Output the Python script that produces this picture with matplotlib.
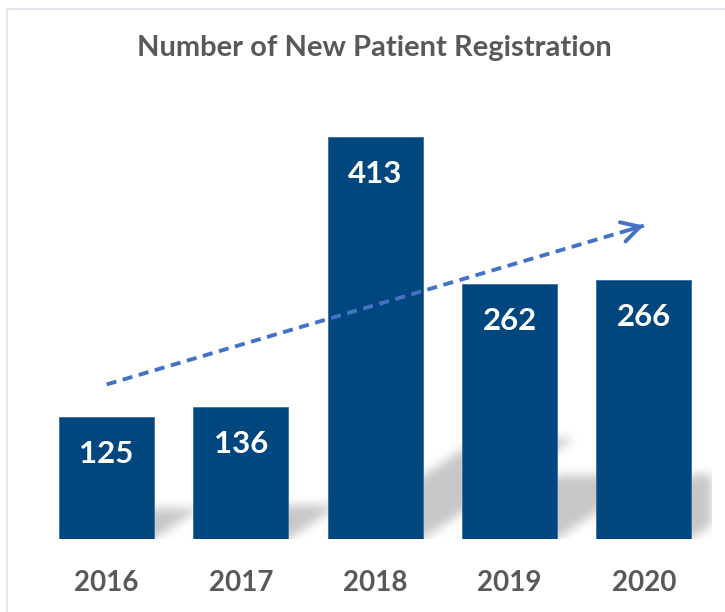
import numpy as np
import matplotlib
matplotlib.use("Agg")
import matplotlib.pyplot as plt
from matplotlib.patches import Rectangle

years = ["2016", "2017", "2018", "2019", "2020"]
values = [125, 136, 413, 262, 266]

W, H = 725, 612
fig = plt.figure(figsize=(W / 100, H / 100), dpi=100)
fig.patch.set_facecolor("white")

# outer frame
fig.patches.append(Rectangle((7 / W, -0.05), 1.0, (H - 9) / H + 0.05, transform=fig.transFigure,
                             fill=False, edgecolor="#DCE3EA", linewidth=1.2))

left, right = 39.5 / W, 711 / W
bottom = 73 / H
top_px = 101
ax = fig.add_axes([left, bottom, right - left, (H - top_px) / H - bottom])
x = np.arange(len(values))
xmin, xmax, ymin, ymax = -0.5, len(values) - 0.5, 0, 450
ax.set_xlim(xmin, xmax)
ax.set_ylim(ymin, ymax)
width = 0.708

# soft perspective shadows behind bars (rendered as blurred image)
nx, ny = 671, 438
gx = np.linspace(xmin, xmax, nx)
gy = np.linspace(ymin, ymax, ny)
GX, GY = np.meshgrid(gx, gy)
mask = np.zeros_like(GX)
for xi, v in zip(x, values):
    hh = 0.25 * v
    dx = 0.00272 * v
    t = np.clip(GY / hh, 0, None)
    xs = GX - dx * t
    inside = (GY >= 0) & (GY <= hh) & (xs >= xi - width / 2) & (xs <= xi + width / 2)
    mask = np.maximum(mask, inside.astype(float))

def blur(a, sigma):
    r = int(3 * sigma)
    k = np.exp(-0.5 * (np.arange(-r, r + 1) / sigma) ** 2)
    k /= k.sum()
    a = np.apply_along_axis(lambda m: np.convolve(m, k, mode="same"), 0, a)
    a = np.apply_along_axis(lambda m: np.convolve(m, k, mode="same"), 1, a)
    return a

pad = 30
big = np.zeros((ny + 2 * pad, nx + 2 * pad))
big[pad:-pad, pad:-pad] = mask
big = blur(big, 5)[pad:-pad, pad:-pad]
rgba = np.zeros((ny, nx, 4))
rgba[..., 3] = big * 0.22
ax.imshow(rgba, extent=(xmin, xmax, ymin, ymax), origin="lower", aspect="auto", zorder=1,
          interpolation="bilinear")

ax.bar(x, values, width=width, color="#00467F", edgecolor="#3D6E9E", linewidth=0.6, zorder=3)
for xi, v in zip(x, values):
    ax.annotate(str(v), (xi, v), xytext=(0, -37), textcoords="offset pixels",
                ha="center", va="center", color="white", fontsize=22.5, fontweight="bold",
                family="Lato", zorder=4)

# trend arrow (linear fit)
coef = np.polyfit(x, values, 1)
y0, y1 = np.polyval(coef, 0), np.polyval(coef, len(values) - 1)
ax.plot([x[0], x[-1]], [y0, y1], linestyle=(0, (2.6, 1.7)), color="#4472C4", linewidth=2.8, zorder=5)
ax.annotate("", xy=(x[-1], y1), xytext=(x[-1] - 0.1, y1 - 0.1 * coef[0]),
            arrowprops=dict(arrowstyle="->,head_length=1.3,head_width=0.72", color="#4472C4",
                            linewidth=2.8, shrinkA=0, shrinkB=0), zorder=5)

ax.set_xticks(x)
ax.set_xticklabels(years, fontsize=20, fontweight="bold", color="#595959", family="Lato")
ax.tick_params(axis="x", length=0, pad=22)
ax.set_yticks([])
for sp in ax.spines.values():
    sp.set_visible(False)

fig.text(374 / W, 1 - 48 / H, "Number of New Patient Registration", ha="center", va="center",
         fontsize=21, fontweight="bold", color="#595959", family="Lato")

fig.savefig("out.png", dpi=100)
